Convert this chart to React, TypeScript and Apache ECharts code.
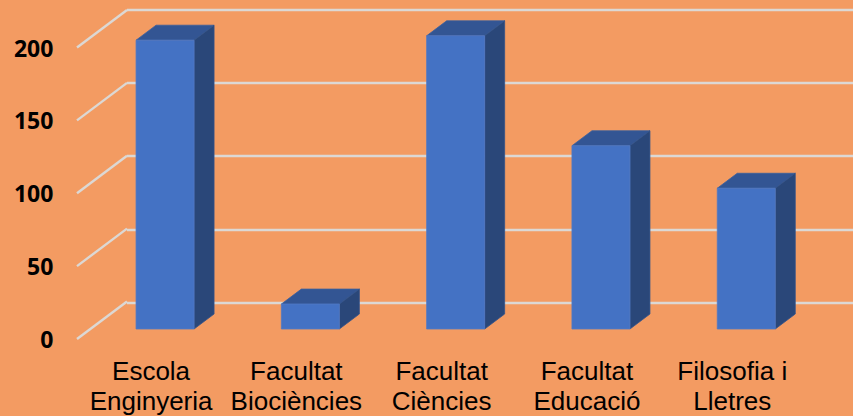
import React, { useEffect, useRef } from "react";
import * as echarts from "echarts";

const categories = ["Escola\nEnginyeria", "Facultat\nBiociències", "Facultat\nCiències", "Facultat\nEducació", "Filosofia i\nLletres"];
const barValues = [197, 17, 200, 125, 96];
const tickValues = [0, 50, 100, 150, 200];

const depthX = 20;
const depthY = -15;
const wallX = 50;
const wallY = -37.5;

export default function App() {
  const ref = useRef<HTMLDivElement>(null);
  useEffect(() => {
    const chart = echarts.init(ref.current!, undefined, { renderer: "svg" });
    const hiddenX = (gridIndex: number) => ({
      type: "category" as const, gridIndex, data: categories, show: false,
    });
    const hiddenY = (gridIndex: number, splitLine: boolean) => ({
      type: "value" as const, gridIndex, min: 0, max: 200, interval: 50,
      axisLine: { show: false }, axisTick: { show: false }, axisLabel: { show: false },
      splitLine: { show: splitLine, lineStyle: { color: "#DCD8D4", width: 2.4 } },
    });
    chart.setOption({
      animation: false,
      backgroundColor: "#F39B62",
      grid: [
        { left: 127, right: 0, top: 9.5, height: 293.2 },
        { left: 78.4, width: 726.5, top: 47.5, height: 294 },
        { left: 92.4, width: 726.5, top: 35.8, height: 293.2 },
      ],
      xAxis: [
        hiddenX(0),
        {
          type: "category", gridIndex: 1, data: categories,
          axisLine: { show: false }, axisTick: { show: false },
          axisLabel: {
            interval: 0, margin: 17, color: "#000000", fontFamily: "Liberation Sans",
            fontSize: 26, lineHeight: 30, hideOverlap: false,
          },
        },
        hiddenX(2),
      ],
      yAxis: [
        hiddenY(0, true),
        {
          type: "value", gridIndex: 1, min: 0, max: 200, interval: 50,
          axisLine: { show: false }, axisTick: { show: false }, splitLine: { show: false },
          axisLabel: {
            margin: 25, color: "#000000", fontFamily: "Open Sans", fontWeight: "bold", fontSize: 23,
            padding: [0, 0, 1, 0],
          },
        },
        hiddenY(2, false),
      ],
      series: [
        {
          type: "custom", name: "walls", xAxisIndex: 1, yAxisIndex: 1, z: 1, silent: true, clip: false,
          data: tickValues.map((v) => [0, v]),
          renderItem: (params: any, api: any) => {
            const p = api.coord([0, api.value(1)]);
            const x0 = params.coordSys.x - 1.4;
            return {
              type: "line",
              shape: { x1: x0, y1: p[1], x2: x0 + wallX, y2: p[1] + wallY },
              style: { stroke: "#DCD8D4", lineWidth: 2.4, fill: "none" },
            };
          },
        },
        {
          type: "custom", name: "bars", xAxisIndex: 2, yAxisIndex: 2, z: 5, silent: true, clip: false,
          data: barValues.map((v, i) => [i, v]),
          renderItem: (_params: any, api: any) => {
            const i = api.value(0);
            const top = api.coord([i, api.value(1)]);
            const base = api.coord([i, 0]);
            const w = 58;
            const l = top[0] - w / 2;
            const r = top[0] + w / 2;
            const t = top[1];
            const b = base[1];
            const poly = (points: number[][], fill: string, stroke: string) => ({
              type: "polygon",
              shape: { points },
              style: { fill, stroke, lineWidth: 0.8 },
            });
            return {
              type: "group",
              children: [
                poly([[l, t], [r, t], [r + depthX, t + depthY], [l + depthX, t + depthY]], "#335593", "#39609F"),
                poly([[r, t], [r + depthX, t + depthY], [r + depthX, b + depthY], [r, b]], "#2A4779", "#31538C"),
                poly([[l, t], [r, t], [r, b], [l, b]], "#4472C4", "#5079C4"),
              ],
            };
          },
        },
      ],
    });
    return () => chart.dispose();
  }, []);
  return <div ref={ref} style={{ position: "absolute", left: 0, top: 0, width: 853, height: 416 }} />;
}
